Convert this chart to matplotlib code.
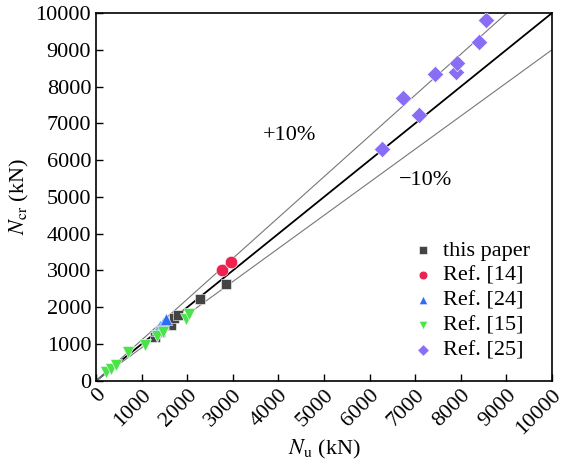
import matplotlib.pyplot as plt
import numpy as np

plt.rcParams['font.family'] = ['Liberation Serif', 'DejaVu Serif']
plt.rcParams['mathtext.fontset'] = 'stix'

# this paper
this_x = [1290, 1400, 1640, 1720, 1800, 2270, 2850]
this_y = [1190, 1330, 1520, 1700, 1800, 2220, 2630]
# Ref. [14]
r14_x = [2760, 2960]
r14_y = [3010, 3240]
# Ref. [24]
r24_x = [1330, 1400, 1470, 1530]
r24_y = [1380, 1480, 1580, 1680]
# Ref. [15]
r15_x = [220, 330, 440, 710, 1080, 1340, 1460, 1970, 2040]
r15_y = [230, 330, 430, 780, 980, 1220, 1320, 1680, 1830]
# Ref. [25]
r25_x = [6270, 6730, 7090, 7430, 7900, 7920, 8400, 8550]
r25_y = [6300, 7700, 7230, 8340, 8400, 8630, 9220, 9810]

ticks = np.arange(0, 10001, 1000)

fig = plt.figure(figsize=(5.65, 4.65), dpi=100)
ax = fig.add_axes([0.170, 0.181, 0.807, 0.791])

line_x = np.array([0, 10000])
ax.plot(line_x, line_x, color='black', lw=1.3, zorder=1)
ax.plot(line_x, line_x * 1.11, color='#777777', lw=0.8, zorder=1)
ax.plot(line_x, line_x * 0.9, color='#777777', lw=0.8, zorder=1)

ax.scatter(this_x, this_y, marker='s', s=55, color='#444444', edgecolors='white', linewidths=0.4, label='this paper', zorder=3)
ax.scatter(r14_x, r14_y, marker='o', s=80, color='#ee2250', edgecolors='white', linewidths=0.4, label='Ref. [14]', zorder=3)
ax.scatter(r24_x, r24_y, marker='^', s=75, color='#2d6cf5', edgecolors='white', linewidths=0.4, label='Ref. [24]', zorder=3)
ax.scatter(r15_x, r15_y, marker='v', s=75, color='#4ae34a', edgecolors='white', linewidths=0.4, label='Ref. [15]', zorder=3)
ax.scatter(r25_x, r25_y, marker='D', s=70, color='#8a6df5', edgecolors='white', linewidths=0.4, label='Ref. [25]', zorder=3)

ax.text(4250, 6680, '+10%', fontsize=16, ha='center', va='center')
ax.text(7220, 5460, '\u221210%', fontsize=16, ha='center', va='center')

ax.set_xlim(0, 10000)
ax.set_ylim(0, 10000)
ax.set_xticks(ticks)
ax.set_yticks(ticks)
ax.set_xticklabels([str(t) for t in ticks], rotation=45, ha='right', rotation_mode='anchor')
ax.tick_params(direction='in', labelsize=16, length=5, width=1, top=False, right=False)
for sp in ax.spines.values():
    sp.set_linewidth(1.2)

ax.set_xlabel(r'$N_{\mathrm{u}}$ (kN)', fontsize=16, labelpad=0)
ax.set_ylabel(r'$N_{\mathrm{cr}}$ (kN)', fontsize=16, labelpad=3)

ax.legend(loc='lower right', bbox_to_anchor=(0.995, 0.0), frameon=False, fontsize=16,
          markerscale=0.7, handletextpad=0.3, labelspacing=0.2, handlelength=1.2)

fig.savefig('out.png', dpi=100)
